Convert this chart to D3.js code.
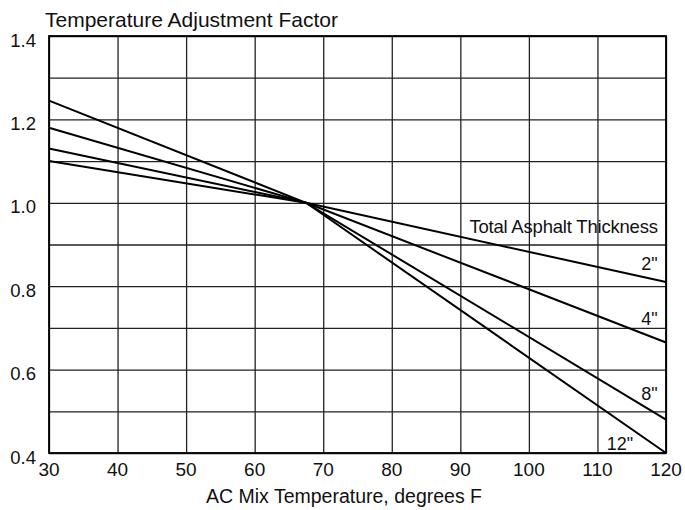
<!DOCTYPE html>
<html>
<head>
<meta charset="utf-8">
<script src="https://cdn.jsdelivr.net/npm/d3@7"></script>
<style>
  body { margin: 0; background: #fff; }
  text { font-family: "Liberation Sans", Arial, Helvetica, sans-serif; fill: #111; }
</style>
</head>
<body>
<div id="container"></div>
<script>
/* DATA */
const temps = [30, 67.5, 120];
const thickness = ['2"', '4"', '8"', '12"'];
const factor2 = [1.10, 1.0, 0.81];
const factor4 = [1.13, 1.0, 0.665];
const factor8 = [1.18, 1.0, 0.48];
const factor12 = [1.245, 1.0, 0.40];
const xTicks = [30, 40, 50, 60, 70, 80, 90, 100, 110, 120];
const yTicks = [0.4, 0.5, 0.6, 0.7, 0.8, 0.9, 1.0, 1.1, 1.2, 1.3, 1.4];
const yLabels = [0.4, 0.6, 0.8, 1.0, 1.2, 1.4];

/* CONSTANTS */
const width = 685;
const height = 510;
const margin = { top: 36, right: 19, bottom: 57, left: 49 };

const series = [factor2, factor4, factor8, factor12].map((vals, i) => ({
  name: thickness[i],
  values: temps.map((t, j) => ({ t: t, f: vals[j] }))
}));

const svg = d3.select("#container")
  .append("svg")
  .attr("width", width)
  .attr("height", height);

/* SCALES */
const xScale = d3.scaleLinear()
  .domain([30, 120])
  .range([margin.left, width - margin.right]);

const yScale = d3.scaleLinear()
  .domain([0.4, 1.4])
  .range([height - margin.bottom, margin.top]);

// grid
svg.append("g")
  .attr("class", "x-grid")
  .attr("transform", `translate(0,${height - margin.bottom})`)
  .call(d3.axisBottom(xScale).tickValues(xTicks).tickSize(-(height - margin.top - margin.bottom)).tickFormat(""))
  .call(g => g.select(".domain").remove())
  .selectAll("line")
  .attr("stroke", "#222")
  .attr("stroke-width", 1.3);

svg.append("g")
  .attr("class", "y-grid")
  .attr("transform", `translate(${margin.left},0)`)
  .call(d3.axisLeft(yScale).tickValues(yTicks).tickSize(-(width - margin.left - margin.right)).tickFormat(""))
  .call(g => g.select(".domain").remove())
  .selectAll("line")
  .attr("stroke", "#222")
  .attr("stroke-width", 1.3);

// frame
svg.append("rect")
  .attr("x", xScale(30))
  .attr("y", yScale(1.4))
  .attr("width", xScale(120) - xScale(30))
  .attr("height", yScale(0.4) - yScale(1.4))
  .attr("fill", "none")
  .attr("stroke", "#000")
  .attr("stroke-width", 1.8);

// x tick labels
svg.append("g")
  .attr("class", "x-axis")
  .selectAll("text")
  .data(xTicks)
  .join("text")
  .attr("x", d => xScale(d))
  .attr("y", 476)
  .attr("text-anchor", "middle")
  .style("font-size", "19px")
  .text(d => d);

// y tick labels (sit a bit below their grid line)
svg.append("g")
  .attr("class", "y-axis")
  .selectAll("text")
  .data(yLabels)
  .join("text")
  .attr("x", 36)
  .attr("y", d => yScale(d) + 10.5)
  .attr("text-anchor", "end")
  .style("font-size", "18.5px")
  .text(d => d3.format(".1f")(d));

// lines
const line = d3.line()
  .x(d => xScale(d.t))
  .y(d => yScale(d.f));

svg.selectAll(".series")
  .data(series)
  .join("path")
  .attr("class", "series")
  .attr("d", d => line(d.values))
  .attr("fill", "none")
  .attr("stroke", "#000")
  .attr("stroke-width", 2);

// series labels
const labelSpots = [
  { x: 118.8, y: 0.84 },
  { x: 118.8, y: 0.708 },
  { x: 118.8, y: 0.528 },
  { x: 115.2, y: 0.408 }
];
svg.selectAll(".label")
  .data(series)
  .join("text")
  .attr("class", "label")
  .attr("x", (d, i) => xScale(labelSpots[i].x))
  .attr("y", (d, i) => yScale(labelSpots[i].y))
  .attr("text-anchor", "end")
  .style("font-size", "18px")
  .text(d => d.name);

svg.append("text")
  .attr("x", xScale(118.8))
  .attr("y", yScale(0.928))
  .attr("text-anchor", "end")
  .style("font-size", "18.5px")
  .style("letter-spacing", "-0.2px")
  .text("Total Asphalt Thickness");

// titles
svg.append("text")
  .attr("x", 45)
  .attr("y", 27)
  .style("font-size", "21px")
  .text("Temperature Adjustment Factor");

svg.append("text")
  .attr("x", 344)
  .attr("y", 503)
  .attr("text-anchor", "middle")
  .style("font-size", "19.5px")
  .text("AC Mix Temperature, degrees F");
</script>
</body>
</html>
